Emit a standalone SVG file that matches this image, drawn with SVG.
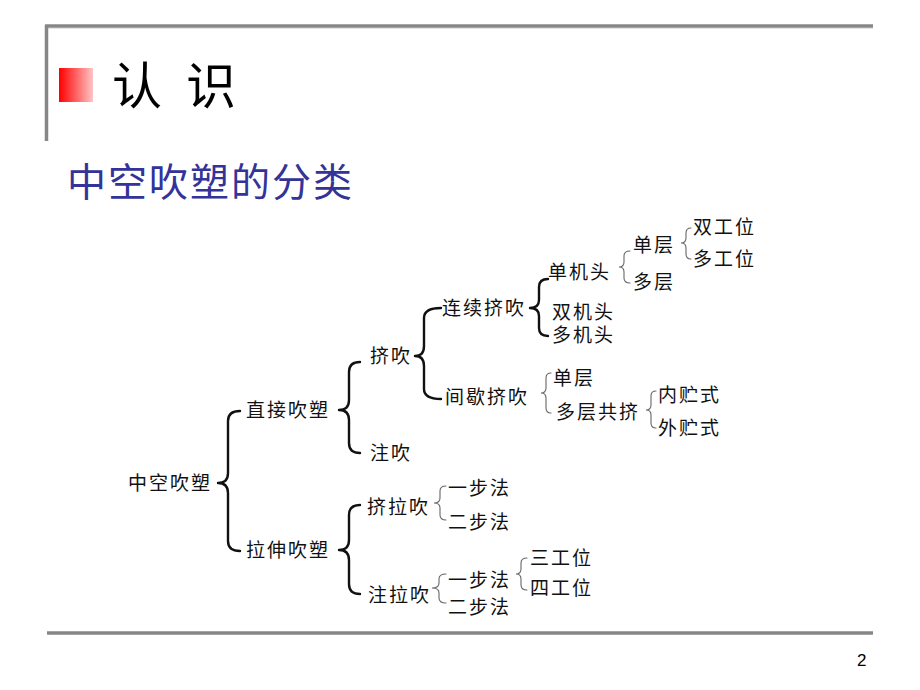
<svg xmlns="http://www.w3.org/2000/svg" width="920" height="690" viewBox="0 0 920 690">
<style>
.t{font-family:"Noto Sans CJK SC","Noto Sans",sans-serif;font-size:19px;letter-spacing:2px;fill:#111}
.bk{fill:none;stroke:#111;stroke-width:2.4;stroke-linecap:round;stroke-linejoin:round}
.bt{fill:none;stroke:#666;stroke-width:1.1;stroke-linecap:round}
.rule{stroke:#878787;stroke-width:3.5}
</style>
<defs>
<linearGradient id="rg" x1="0" y1="0" x2="1" y2="0">
<stop offset="0" stop-color="#ff0000"/>
<stop offset="1" stop-color="#ffc4c4"/>
</linearGradient>
</defs>
<rect width="920" height="690" fill="#fff"/>
<g id="header">
<line class="rule" x1="45" y1="26" x2="873" y2="26"/>
<line x1="47" y1="28.5" x2="873" y2="28.5" stroke="#e4e4e4" stroke-width="1"/>
<line class="rule" x1="46.5" y1="25" x2="46.5" y2="141"/>
<rect x="59" y="68" width="34" height="34" fill="url(#rg)"/>
<text x="112 186" y="104" font-family="Noto Sans CJK SC, sans-serif" font-size="50" fill="#000">认识</text>
<text x="67" y="196" font-family="Noto Sans CJK SC, sans-serif" font-size="39" letter-spacing="2" fill="#333399">中空吹塑的分类</text>
</g>
<g id="connectors">
<path class="bk" d="M240,411 Q228,411 228,421 L228,473 Q228,483 218,483 Q228,483 228,493 L228,541 Q228,551 240,551"/>
<path class="bk" d="M360,362 Q349,362 349,372 L349,400 Q349,410 339,410 Q349,410 349,420 L349,443 Q349,453 360,453"/>
<path class="bk" d="M360,505 Q349,505 349,515 L349,540 Q349,550 339,550 Q349,550 349,560 L349,584 Q349,594 360,594"/>
<path class="bk" d="M441,308 Q424,308 424,318 L424,346 Q424,356 415,356 Q424,356 424,366 L424,389 Q424,399 441,399"/>
<path class="bk" d="M548,279 Q539,279 539,287 L539,300 Q539,308 530,308 Q539,308 539,316 L539,328 Q539,336 548,336"/>
<path class="bt" d="M630,251 Q624,251 624,256 L624,262 Q624,267 619,267 Q624,267 624,272 L624,278 Q624,283 630,283"/>
<path class="bt" d="M691,228 Q686,228 686,233 L686,238 Q686,243 681,243 Q686,243 686,248 L686,254 Q686,259 691,259"/>
<path class="bt" d="M551,373 Q546,373 546,378 L546,388 Q546,393 541,393 Q546,393 546,398 L546,408 Q546,413 551,413"/>
<path class="bt" d="M656,391 Q651,391 651,396 L651,405 Q651,410 646,410 Q651,410 651,415 L651,423 Q651,428 656,428"/>
<path class="bt" d="M446,486 Q440,486 440,491 L440,498 Q440,503 434,503 Q440,503 440,508 L440,515 Q440,520 446,520"/>
<path class="bt" d="M446,574 Q439,574 439,579 L439,583 Q439,588 432,588 Q439,588 439,593 L439,598 Q439,603 446,603"/>
<path class="bt" d="M527,558 Q521,558 521,563 L521,569 Q521,574 516,574 Q521,574 521,579 L521,585 Q521,590 527,590"/>
</g>
<g id="n-root"><text class="t" x="128" y="490">中空吹塑</text></g>
<g id="n-zhijie"><text class="t" x="246" y="417">直接吹塑</text></g>
<g id="n-lashen"><text class="t" x="246" y="557">拉伸吹塑</text></g>
<g id="n-jichui"><text class="t" x="370" y="363">挤吹</text></g>
<g id="n-zhuchui"><text class="t" x="370" y="460">注吹</text></g>
<g id="n-lianxu"><text class="t" x="442" y="315">连续挤吹</text></g>
<g id="n-jianxie"><text class="t" x="445" y="404">间歇挤吹</text></g>
<g id="n-danjitou"><text class="t" x="548" y="279">单机头</text></g>
<g id="n-shuangjitou"><text class="t" x="552" y="319">双机头</text></g>
<g id="n-duojitou"><text class="t" x="552" y="342">多机头</text></g>
<g id="n-danceng1"><text class="t" x="633" y="252">单层</text></g>
<g id="n-duoceng1"><text class="t" x="633" y="289">多层</text></g>
<g id="n-shuanggongwei"><text class="t" x="693" y="234">双工位</text></g>
<g id="n-duogongwei"><text class="t" x="693" y="266">多工位</text></g>
<g id="n-danceng2"><text class="t" x="553" y="385">单层</text></g>
<g id="n-duocenggongji"><text class="t" x="556" y="419">多层共挤</text></g>
<g id="n-neizhu"><text class="t" x="658" y="402">内贮式</text></g>
<g id="n-waizhu"><text class="t" x="658" y="435">外贮式</text></g>
<g id="n-jilachui"><text class="t" x="367" y="514">挤拉吹</text></g>
<g id="n-yibu1"><text class="t" x="448" y="495">一步法</text></g>
<g id="n-erbu1"><text class="t" x="448" y="529">二步法</text></g>
<g id="n-zhulachui"><text class="t" x="368" y="602">注拉吹</text></g>
<g id="n-yibu2"><text class="t" x="448" y="587">一步法</text></g>
<g id="n-erbu2"><text class="t" x="448" y="614">二步法</text></g>
<g id="n-sangongwei"><text class="t" x="530" y="565">三工位</text></g>
<g id="n-sigongwei"><text class="t" x="530" y="595">四工位</text></g>
<g id="footer">
<line class="rule" x1="47" y1="633" x2="873" y2="633"/>
<text x="857" y="666" font-family="Liberation Sans, Arial, sans-serif" font-size="17" fill="#000">2</text>
</g>
</svg>
